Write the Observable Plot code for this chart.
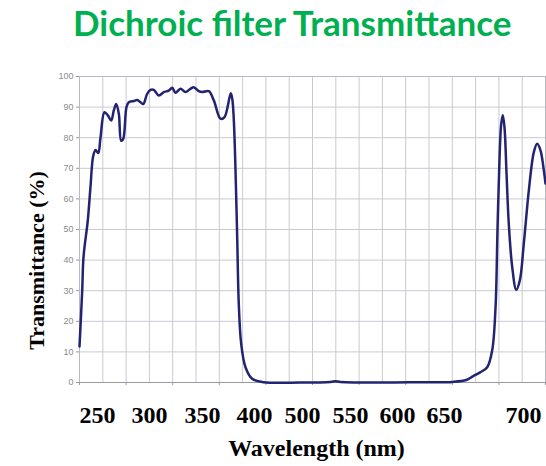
<!DOCTYPE html>
<html><head><meta charset="utf-8">
<script src="https://cdn.jsdelivr.net/npm/d3@7"></script>
<script src="https://cdn.jsdelivr.net/npm/@observablehq/plot@0.6"></script>
<style>
body{margin:0;background:#fff;}
#wrap{position:relative;width:546px;height:466px;overflow:hidden;}
#title{position:absolute;top:5px;left:73px;font-family:Lato,"Open Sans",sans-serif;font-weight:bold;font-size:35px;color:#00B050;white-space:nowrap;line-height:1;}
#chart{position:absolute;top:0;left:0;}
</style></head><body>
<div id="wrap"><div id="chart"></div><div id="title"></div></div>
<script>
const title = "Dichroic filter Transmittance";
const xTitle = "Wavelength (nm)";
const yTitle = "Transmittance (%)";

const wavelength = [230, 232.9, 234.3, 238.9, 241.8, 244.7, 247.2, 250.1, 252.5, 256.8,
  260.4, 264.0, 266.8, 269.4, 272.2, 274.7, 276.9, 280.4, 282.9, 288.3,
  291.9, 295.5, 298.4, 302.6, 306.2, 309.7, 315.1, 320.5, 325.8, 329.5,
  333.0, 338.4, 343.7, 349.1, 352.6, 358.0, 361.7, 368.7, 374.1, 381.3,
  385.6, 392.3, 394.0, 395.6, 397.4, 399.2, 400.9, 403.5, 408.1, 415.3,
  427.8, 467.1, 499.3, 504.7, 510.0, 553.0, 595.9, 630.0, 645.0, 652.0,
  660.3, 667.5, 672.8, 676.4, 678.5, 680.7, 682.5, 684.2, 686.0, 688.2,
  690.6, 694.3, 698.6, 702.4, 706.7, 712.1, 717.5, 721.1, 724.7, 728.2, 730];
const transmittance = [11.8, 30, 41, 53, 64, 74, 76, 75, 80, 88.3,
  87.3, 85.6, 88.9, 91, 87.8, 79, 79.6, 90, 91.6, 92,
  92.3, 91.6, 91, 94.3, 95.6, 95.6, 93.8, 94.9, 95.4, 96.3,
  94.7, 96, 94.9, 96, 96.5, 95.2, 94.9, 95.2, 92.2, 86.2,
  86.7, 94.5, 92.5, 85.6, 69.3, 47.5, 25.7, 12.6, 5, 1.2,
  0.1, 0, 0.2, 0.4, 0.2, 0, 0.1, 0.2, 0.8, 2.0,
  3.4, 5, 10.5, 24.6, 50, 73.6, 84.5, 87.3, 83.4, 68.2,
  51.9, 37.7, 30.3, 33.3, 45.3, 62.7, 75.3, 78, 75.8, 69.3, 65];

const xLabels = ["250", "300", "350", "400", "500", "550", "600", "650", "700"];
const xLabelAt = [249.3, 305.1, 362.0, 417.8, 469.3, 520.8, 571.2, 621.6, 706.4];
const xGrid = [230, 255, 280, 305, 330, 355, 380, 405, 430, 455, 480, 505, 530, 555, 580, 605, 630, 655, 680, 705, 730];
const xTicks = [230, 280, 330, 380, 430, 480, 530, 580, 630, 680, 730];
const yTicks = [0, 10, 20, 30, 40, 50, 60, 70, 80, 90, 100];

const data = wavelength.map((w, i) => ({w, t: transmittance[i]}));

document.getElementById("title").textContent = title;

const serif = {fontFamily: "Liberation Serif", fontWeight: "bold", fill: "#000"};

const chart = Plot.plot({
  width: 546, height: 466,
  marginTop: 76, marginBottom: 84, marginLeft: 79, marginRight: 1,
  style: {background: "#fff", fontFamily: "Liberation Sans"},
  x: {domain: [230, 730]},
  y: {domain: [0, 100]},
  marks: [
    Plot.gridX(xGrid, {stroke: "#c9cad3", strokeOpacity: 1, strokeWidth: 1}),
    Plot.gridY(yTicks, {stroke: "#c9cad3", strokeOpacity: 1, strokeWidth: 1}),
    Plot.frame({stroke: "#b8b9c2"}),
    Plot.axisY(yTicks, {tickSize: 3, tickPadding: 3, fontSize: 9, fill: "#8a8a8a", stroke: "#999", label: null}),
    Plot.axisX(xTicks, {tickSize: 3, tickFormat: () => "", stroke: "#999", label: null}),
    Plot.ruleY([0], {stroke: "#9a9aa2"}),
    Plot.line(data, {x: "w", y: "t", stroke: "#232372", strokeWidth: 2.5, curve: "catmull-rom"}),
    Plot.text(xLabelAt, {x: d => d, frameAnchor: "bottom", lineAnchor: "bottom", dy: 40, text: (d, i) => xLabels[i], fontSize: 24, ...serif}),
    Plot.text([xTitle], {frameAnchor: "bottom", lineAnchor: "bottom", dx: 4, dy: 73, text: d => d, fontSize: 24, ...serif}),
    Plot.text([yTitle], {frameAnchor: "left", textAnchor: "middle", lineAnchor: "middle", rotate: -90, dx: -43, dy: 31, text: d => d, fontSize: 22, letterSpacing: "0.3px", ...serif})
  ]
});
document.getElementById("chart").appendChild(chart);
</script>
</body></html>
